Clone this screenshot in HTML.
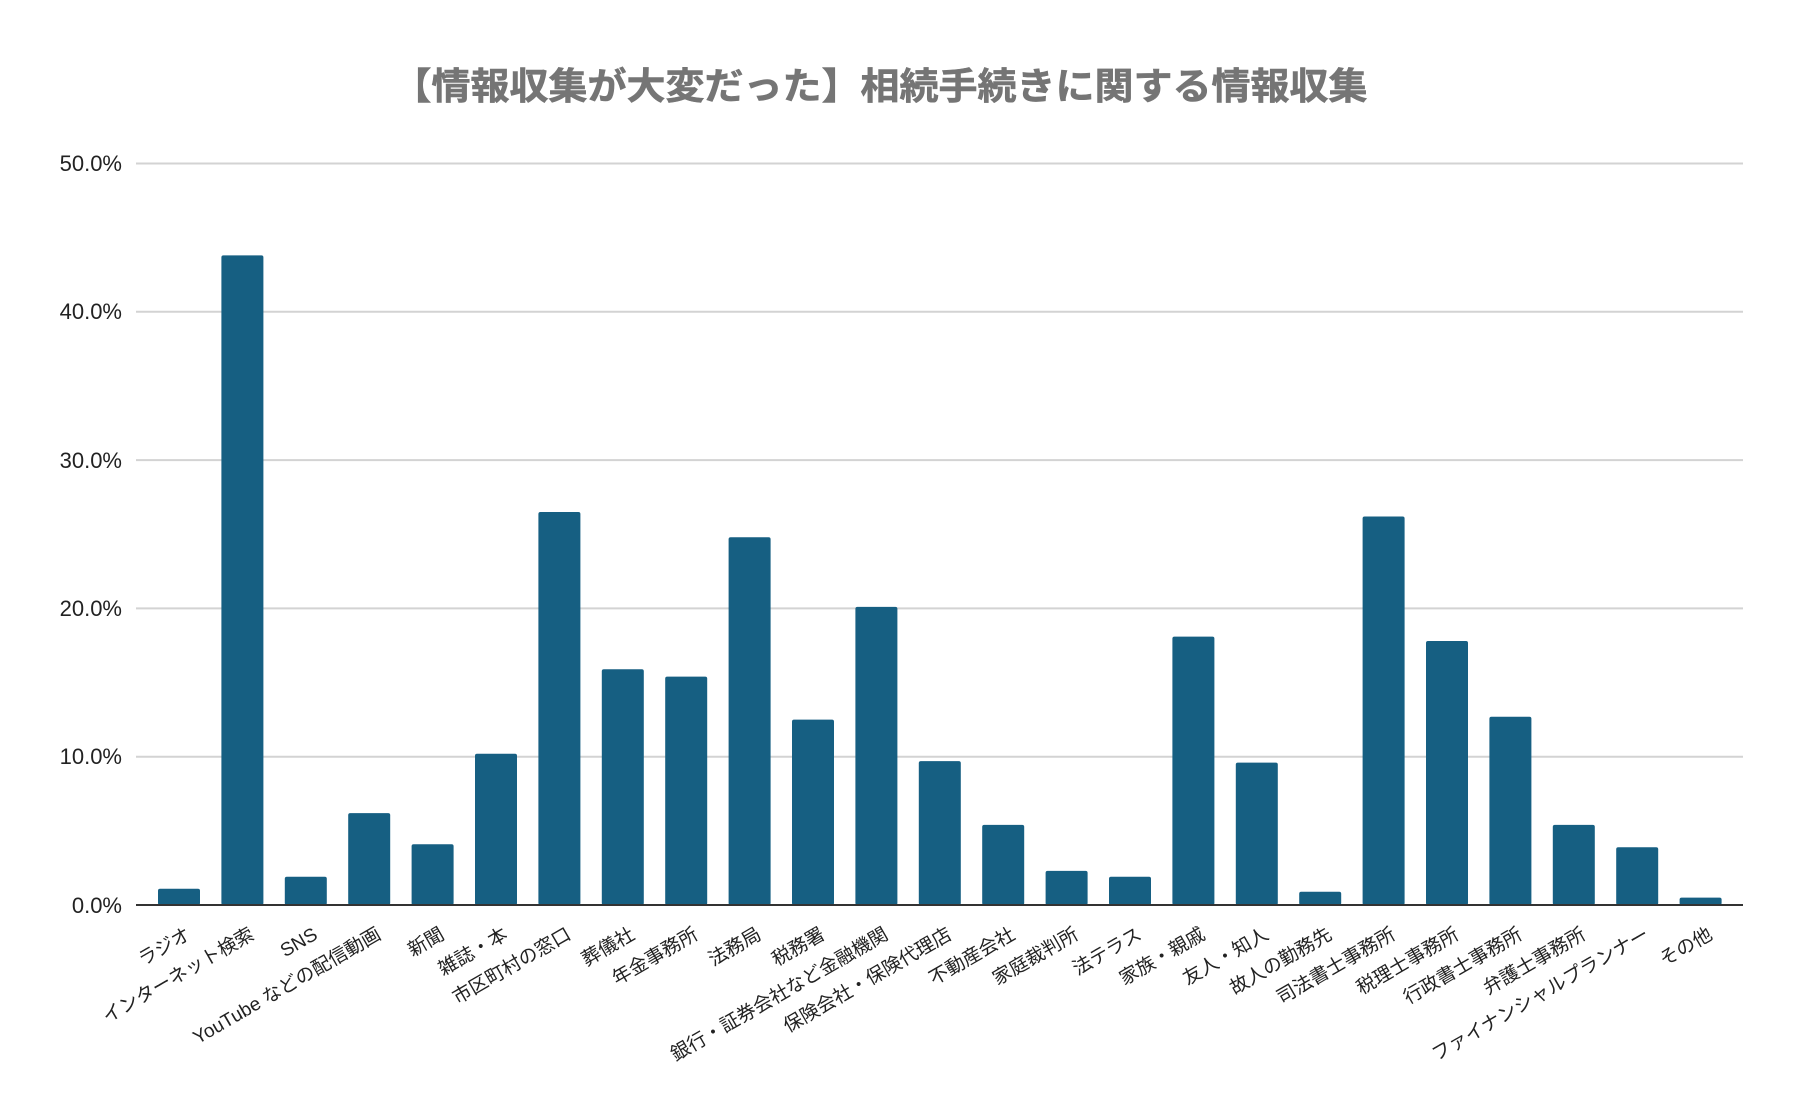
<!DOCTYPE html>
<html><head><meta charset="utf-8"><style>
html,body{margin:0;padding:0;background:#fff;}
</style></head><body>
<svg width="1798" height="1113" viewBox="0 0 1798 1113" xmlns="http://www.w3.org/2000/svg">
<rect width="1798" height="1113" fill="#fff"/>
<text x="880" y="99" text-anchor="middle" font-family="'Liberation Sans','Noto Sans CJK JP',sans-serif" font-weight="bold" font-size="37" fill="#757575" stroke="#757575" stroke-width="0.6" textLength="975" lengthAdjust="spacingAndGlyphs">【情報収集が大変だった】相続手続きに関する情報収集</text>
<g stroke="#d3d3d3" stroke-width="2">
<line x1="136" y1="163.5" x2="1743" y2="163.5"/>
<line x1="136" y1="311.8" x2="1743" y2="311.8"/>
<line x1="136" y1="460.1" x2="1743" y2="460.1"/>
<line x1="136" y1="608.4" x2="1743" y2="608.4"/>
<line x1="136" y1="756.7" x2="1743" y2="756.7"/>
</g>
<g font-family="'Liberation Sans',sans-serif" font-size="22" fill="#222" text-anchor="end">
<text x="122" y="171">50.0%</text>
<text x="122" y="319">40.0%</text>
<text x="122" y="468">30.0%</text>
<text x="122" y="616">20.0%</text>
<text x="122" y="764">10.0%</text>
<text x="122" y="913">0.0%</text>
</g>
<g fill="#165f82">
<rect x="158" y="888.7" width="42" height="16.3" rx="2"/>
<rect x="221.4" y="255.4" width="42" height="649.6" rx="2"/>
<rect x="284.8" y="876.8" width="42" height="28.2" rx="2"/>
<rect x="348.2" y="813.1" width="42" height="91.9" rx="2"/>
<rect x="411.6" y="844.2" width="42" height="60.8" rx="2"/>
<rect x="475" y="753.7" width="42" height="151.3" rx="2"/>
<rect x="538.4" y="512" width="42" height="393" rx="2"/>
<rect x="601.8" y="669.2" width="42" height="235.8" rx="2"/>
<rect x="665.2" y="676.6" width="42" height="228.4" rx="2"/>
<rect x="728.6" y="537.2" width="42" height="367.8" rx="2"/>
<rect x="792" y="719.6" width="42" height="185.4" rx="2"/>
<rect x="855.4" y="606.9" width="42" height="298.1" rx="2"/>
<rect x="918.8" y="761.1" width="42" height="143.9" rx="2"/>
<rect x="982.2" y="824.9" width="42" height="80.1" rx="2"/>
<rect x="1045.6" y="870.9" width="42" height="34.1" rx="2"/>
<rect x="1109" y="876.8" width="42" height="28.2" rx="2"/>
<rect x="1172.4" y="636.6" width="42" height="268.4" rx="2"/>
<rect x="1235.8" y="762.6" width="42" height="142.4" rx="2"/>
<rect x="1299.2" y="891.7" width="42" height="13.3" rx="2"/>
<rect x="1362.6" y="516.5" width="42" height="388.5" rx="2"/>
<rect x="1426" y="641" width="42" height="264" rx="2"/>
<rect x="1489.4" y="716.7" width="42" height="188.3" rx="2"/>
<rect x="1552.8" y="824.9" width="42" height="80.1" rx="2"/>
<rect x="1616.2" y="847.2" width="42" height="57.8" rx="2"/>
<rect x="1679.6" y="897.6" width="42" height="7.4" rx="2"/>
</g>
<line x1="136" y1="905" x2="1743" y2="905" stroke="#333" stroke-width="2"/>
<g font-family="'Liberation Sans','Noto Sans CJK JP',sans-serif" font-size="19" fill="#222" text-anchor="end">
<text x="192" y="938" transform="rotate(-30 192 938)">ラジオ</text>
<text x="255.4" y="938" transform="rotate(-30 255.4 938)">インターネット検索</text>
<text x="318.8" y="938" transform="rotate(-30 318.8 938)">SNS</text>
<text x="382.2" y="938" transform="rotate(-30 382.2 938)">YouTube などの配信動画</text>
<text x="445.6" y="938" transform="rotate(-30 445.6 938)">新聞</text>
<text x="509" y="938" transform="rotate(-30 509 938)">雑誌・本</text>
<text x="572.4" y="938" transform="rotate(-30 572.4 938)">市区町村の窓口</text>
<text x="635.8" y="938" transform="rotate(-30 635.8 938)">葬儀社</text>
<text x="699.2" y="938" transform="rotate(-30 699.2 938)">年金事務所</text>
<text x="762.6" y="938" transform="rotate(-30 762.6 938)">法務局</text>
<text x="826" y="938" transform="rotate(-30 826 938)">税務署</text>
<text x="889.4" y="938" transform="rotate(-30 889.4 938)">銀行・証券会社など金融機関</text>
<text x="952.8" y="938" transform="rotate(-30 952.8 938)">保険会社・保険代理店</text>
<text x="1016.2" y="938" transform="rotate(-30 1016.2 938)">不動産会社</text>
<text x="1079.6" y="938" transform="rotate(-30 1079.6 938)">家庭裁判所</text>
<text x="1143" y="938" transform="rotate(-30 1143 938)">法テラス</text>
<text x="1206.4" y="938" transform="rotate(-30 1206.4 938)">家族・親戚</text>
<text x="1269.8" y="938" transform="rotate(-30 1269.8 938)">友人・知人</text>
<text x="1333.2" y="938" transform="rotate(-30 1333.2 938)">故人の勤務先</text>
<text x="1396.6" y="938" transform="rotate(-30 1396.6 938)">司法書士事務所</text>
<text x="1460" y="938" transform="rotate(-30 1460 938)">税理士事務所</text>
<text x="1523.4" y="938" transform="rotate(-30 1523.4 938)">行政書士事務所</text>
<text x="1586.8" y="938" transform="rotate(-30 1586.8 938)">弁護士事務所</text>
<text x="1650.2" y="938" transform="rotate(-30 1650.2 938)">ファイナンシャルプランナー</text>
<text x="1713.6" y="938" transform="rotate(-30 1713.6 938)">その他</text>
</g>
</svg>
</body></html>
